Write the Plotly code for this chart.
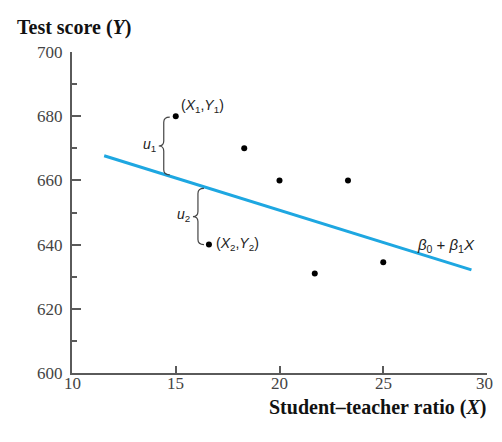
import plotly.graph_objects as go

# ---- data ----
student_teacher_ratio = [15.0, 18.3, 20.0, 23.3, 16.6, 21.7, 25.0]
test_score = [680, 670, 660, 660, 640, 631, 634.5]
beta0 = 690.9
beta1 = -2.01
line_x = [11.55, 29.25]
x_ticks = [10, 15, 20, 25, 30]
y_ticks = [600, 620, 640, 660, 680, 700]
y_minor = [610, 630, 650, 670, 690]

OFF = 8  # page body margin
W, H = 502 - 2 * OFF, 442 - 2 * OFF
ML, MT = 72 - OFF, 52 - OFF
MR = (OFF + W) - 487
MB = (442 - OFF) - 373
PW, PH = W - ML - MR, H - MT - MB
XR = (10, 30)
YR = (600, 700)

def fx(v):
    return v * (XR[1] - XR[0]) / PW

def fy(v):
    return v * (YR[1] - YR[0]) / PH

def line_y(x):
    return beta0 + beta1 * x

def brace(x0, yt, yb):
    w = fx(6)
    tip = fx(5)
    c = fy(5)
    ym = (yt + yb) / 2
    return (f"M {x0+w},{yt} Q {x0},{yt} {x0},{yt-c} "
            f"L {x0},{ym+c} Q {x0},{ym} {x0-tip},{ym} "
            f"Q {x0},{ym} {x0},{ym-c} "
            f"L {x0},{yb+c} Q {x0},{yb} {x0+w},{yb}")

fig = go.Figure()

fig.add_trace(go.Scatter(
    x=line_x, y=[line_y(v) for v in line_x], mode="lines",
    line=dict(color="#1ea7e1", width=3), hoverinfo="skip", showlegend=False))

fig.add_trace(go.Scatter(
    x=student_teacher_ratio, y=test_score, mode="markers",
    marker=dict(color="black", size=6), showlegend=False))

serif = "Liberation Serif"
sans = "Liberation Sans"
axcol = "#5a5a5a"
lblcol = "#222"

x1, y1 = student_teacher_ratio[0], test_score[0]
x2, y2 = student_teacher_ratio[4], test_score[4]
b1x = x1 - fx(12)
b2x = x2 - fx(11)
shapes = [
    dict(type="path", xref="x", yref="y",
         path=brace(b1x, y1 - fy(1), line_y(b1x + fx(5)) + fy(1)),
         line=dict(color="#444", width=1.2)),
    dict(type="path", xref="x", yref="y",
         path=brace(b2x, line_y(b2x + fx(5)) - fy(2), y2),
         line=dict(color="#444", width=1.2)),
]

annots = [
    dict(x=x1, y=y1, xref="x", yref="y", text="(<i>X</i><sub>1</sub>,<i>Y</i><sub>1</sub>)",
         showarrow=False, xanchor="left", yanchor="middle", xshift=3, yshift=10,
         font=dict(family=sans, size=14, color=lblcol)),
    dict(x=x2, y=y2, xref="x", yref="y", text="(<i>X</i><sub>2</sub>,<i>Y</i><sub>2</sub>)",
         showarrow=False, xanchor="left", yanchor="middle", xshift=5, yshift=1,
         font=dict(family=sans, size=14, color=lblcol)),
    dict(x=b1x - fx(6), y=(y1 + line_y(b1x)) / 2, xref="x", yref="y",
         text="<i>u</i><sub>1</sub>", showarrow=False, xanchor="right", yanchor="middle",
         font=dict(family=sans, size=14, color=lblcol)),
    dict(x=b2x - fx(6), y=(y2 + line_y(b2x)) / 2, xref="x", yref="y",
         text="<i>u</i><sub>2</sub>", showarrow=False, xanchor="right", yanchor="middle",
         font=dict(family=sans, size=14, color=lblcol)),
    dict(x=28.0, y=line_y(28.0), xref="x", yref="y",
         text="<i>β</i><sub>0</sub> + <i>β</i><sub>1</sub><i>X</i>", showarrow=False,
         xanchor="center", yanchor="bottom", yshift=5,
         font=dict(family=sans, size=15, color=lblcol)),
    dict(x=(15 - OFF - ML) / PW, y=1 + (MT - (28 - OFF)) / PH, xref="paper", yref="paper",
         text="<b>Test score (<i>Y</i>)</b>", showarrow=False, xanchor="left", yanchor="middle",
         font=dict(family=serif, size=20, color="#111")),
    dict(x=(488 - OFF - ML) / PW, y=-(407 - 373) / PH, xref="paper", yref="paper",
         text="<b>Student–teacher ratio (<i>X</i>)</b>", showarrow=False,
         xanchor="right", yanchor="middle",
         font=dict(family=serif, size=20, color="#111")),
]

# x tick labels as annotations (keeps the last label inside the page)
for v in x_ticks:
    annots.append(dict(x=v, y=-(384 - 373) / PH, xref="x", yref="paper", text=str(v),
                       showarrow=False, xanchor="center", yanchor="middle",
                       xshift=-3 if v == XR[1] else 0,
                       font=dict(family=serif, size=17, color="#444")))

fig.update_layout(
    width=W, height=H,
    margin=dict(l=ML, r=MR, t=MT, b=MB, autoexpand=False),
    paper_bgcolor="white", plot_bgcolor="white",
    shapes=shapes, annotations=annots,
    xaxis=dict(range=list(XR), tickvals=x_ticks, showticklabels=False,
               automargin=False,
               showgrid=False, zeroline=False, showline=True, linecolor=axcol, linewidth=2,
               ticks="inside", ticklen=7, tickwidth=2, tickcolor=axcol),
    yaxis=dict(range=list(YR), tickvals=y_ticks, ticktext=[str(v) for v in y_ticks],
               automargin=False,
               showgrid=False, zeroline=False, showline=True, linecolor=axcol, linewidth=2,
               ticks="inside", ticklen=9, tickwidth=2, tickcolor=axcol,
               ticklabelstandoff=4,
               tickfont=dict(family=serif, size=17, color="#444"),
               minor=dict(tickvals=y_minor, ticks="inside", ticklen=5, tickwidth=2,
                          tickcolor=axcol)),
    showlegend=False,
)

fig.write_html("out.html")
